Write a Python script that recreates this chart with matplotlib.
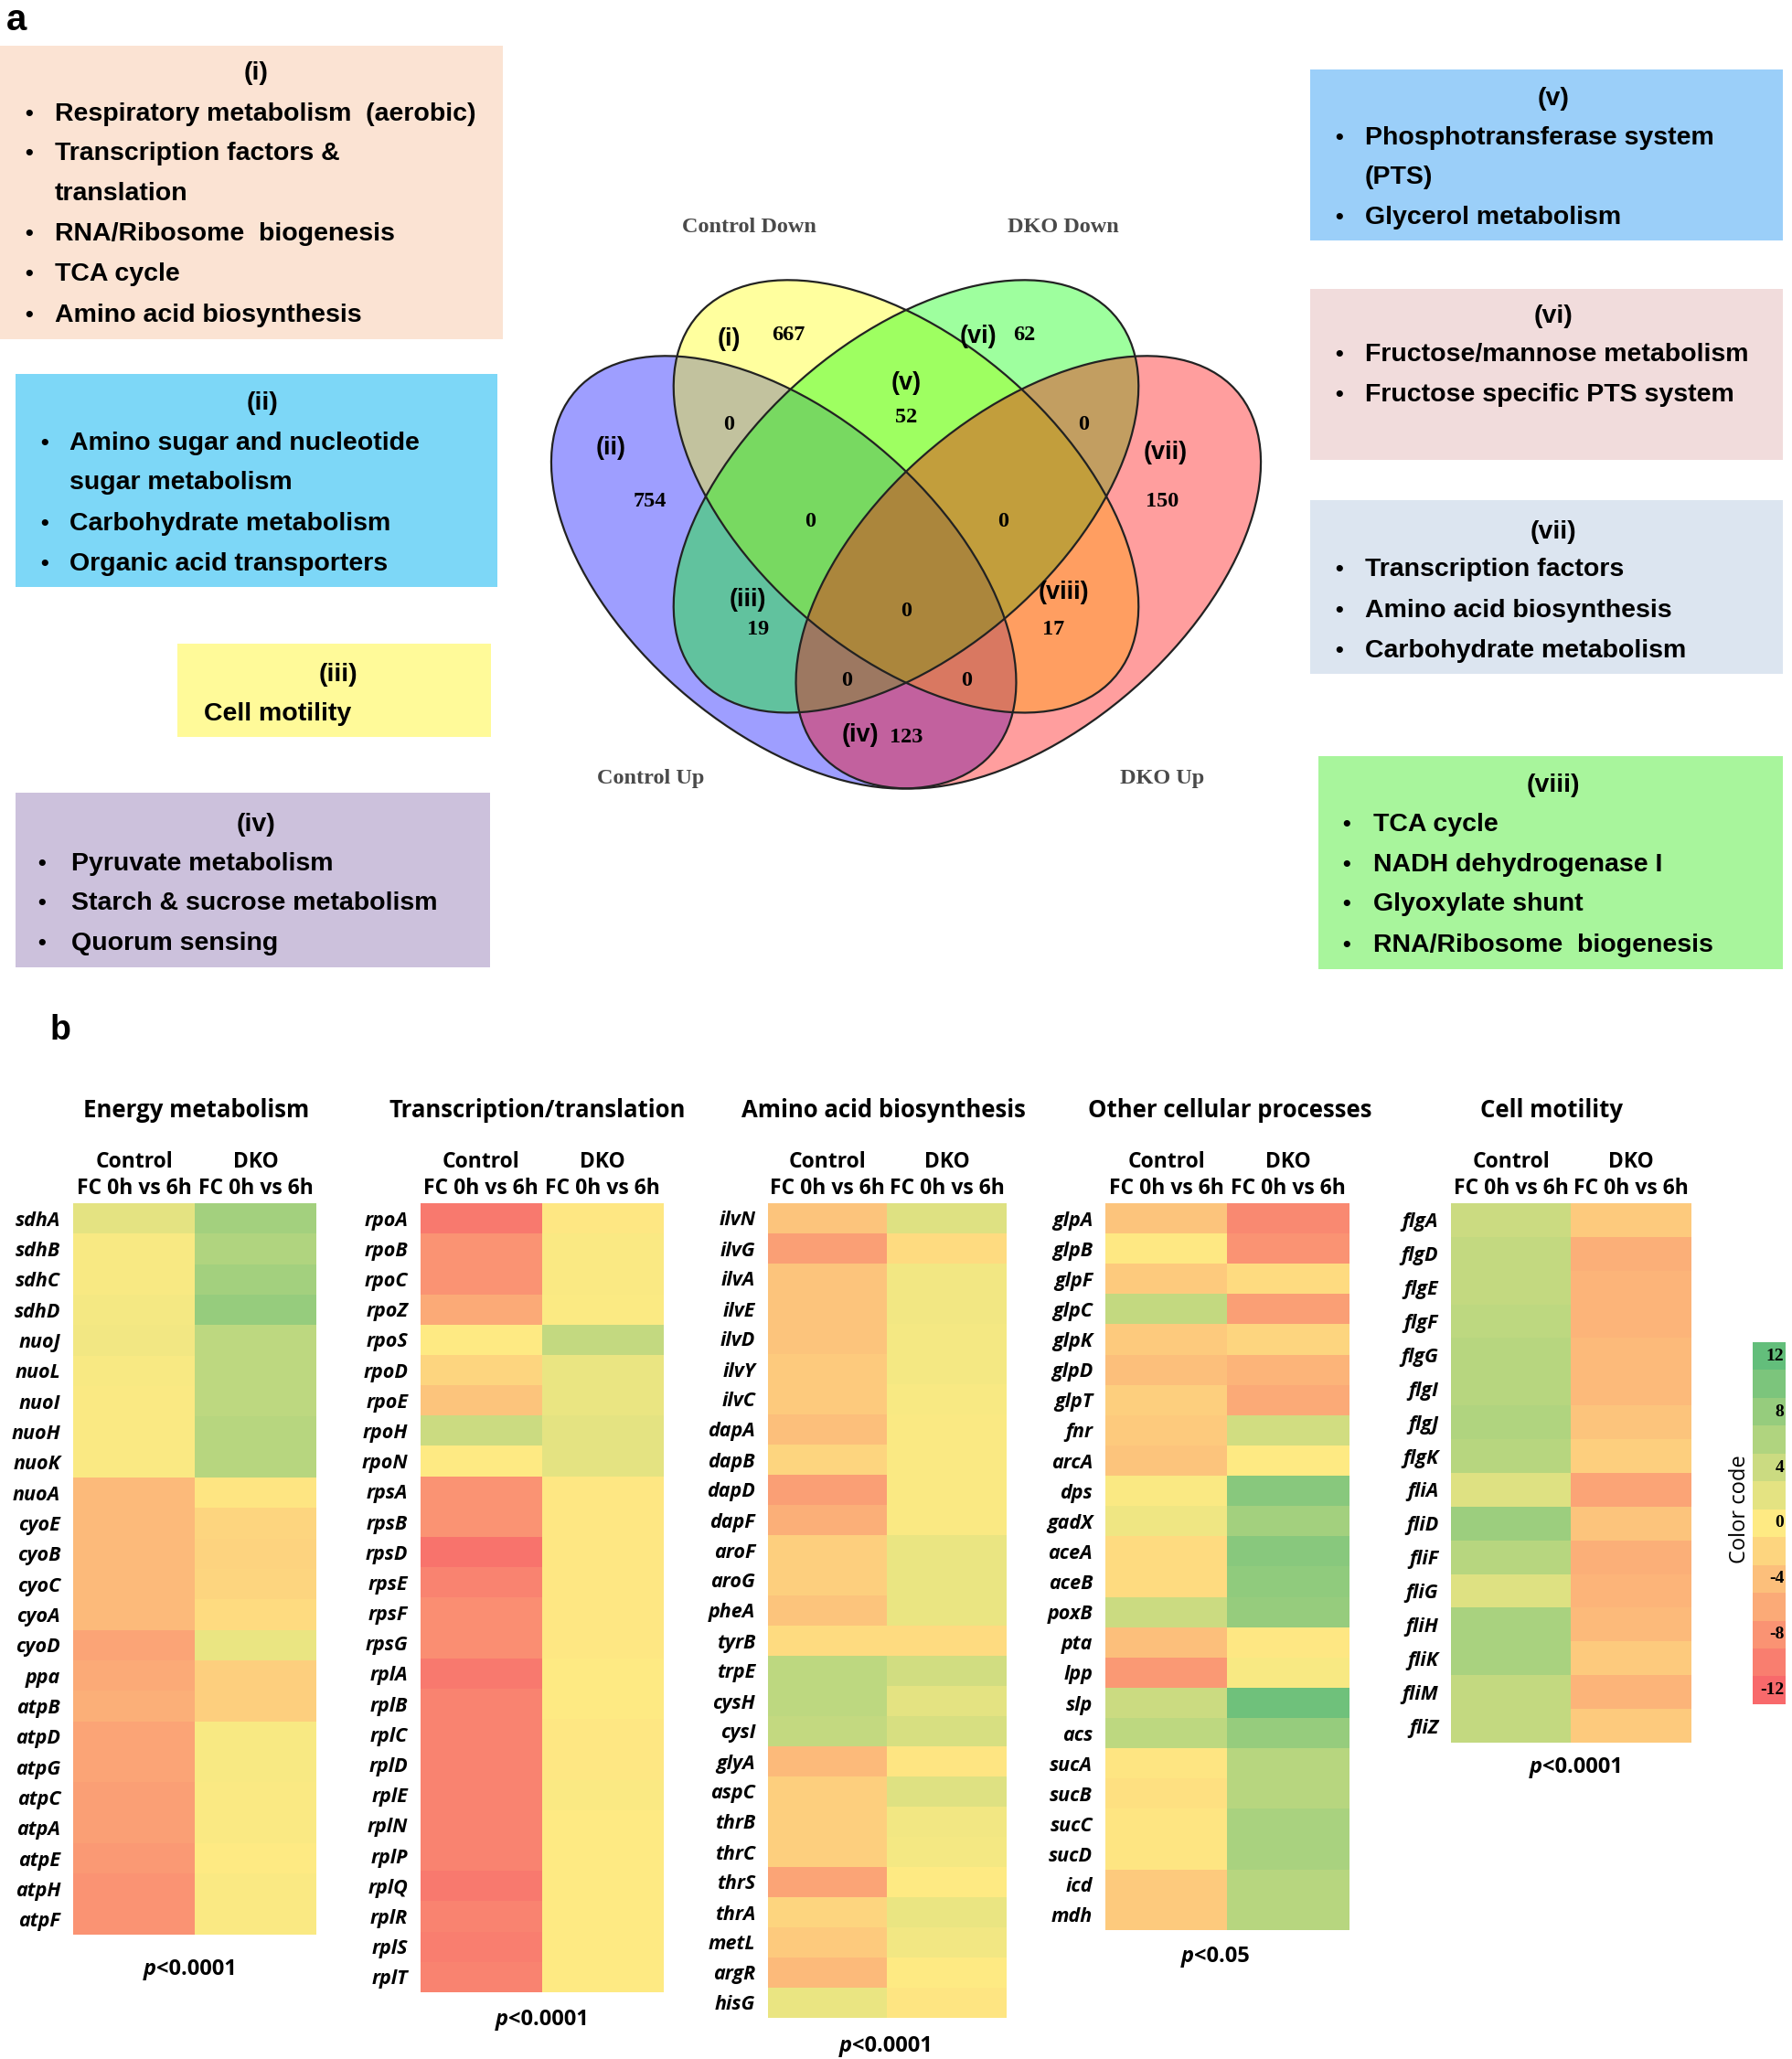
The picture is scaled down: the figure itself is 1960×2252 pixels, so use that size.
import numpy as np
import matplotlib
matplotlib.use('Agg')
import matplotlib.pyplot as plt
from matplotlib.patches import Ellipse, Rectangle
from matplotlib.colors import LinearSegmentedColormap

# ---------------- DATA ----------------
col_labels = ["Control\nFC 0h vs 6h", "DKO\nFC 0h vs 6h"]

energy_genes = ["sdhA", "sdhB", "sdhC", "sdhD", "nuoJ", "nuoL", "nuoI", "nuoH", "nuoK", "nuoA",
                "cyoE", "cyoB", "cyoC", "cyoA", "cyoD", "ppa", "atpB", "atpD", "atpG", "atpC",
                "atpA", "atpE", "atpH", "atpF"]
energy_control = [2, 0.5, 0.5, 0.8, 1, 0.5, 0.3, 0.3, 0.3, -4.5, -4.5, -4.5, -4.5, -4.5, -6.5, -6,
                  -5.5, -6.5, -6.5, -7, -7, -7.5, -8, -8]
energy_dko = [7, 6, 7, 8, 5, 5, 5, 5.5, 5.5, -0.5, -2, -2.2, -2, -1.5, 1.5, -2.5, -2.5, 0.5, 0.5,
              0.3, 0.3, 0, 0.3, 0.3]

trans_genes = ["rpoA", "rpoB", "rpoC", "rpoZ", "rpoS", "rpoD", "rpoE", "rpoH", "rpoN", "rpsA",
               "rpsB", "rpsD", "rpsE", "rpsF", "rpsG", "rplA", "rplB", "rplC", "rplD", "rplE",
               "rplN", "rplP", "rplQ", "rplR", "rplS", "rplT"]
trans_control = [-10.5, -8, -8, -6, 0, -2, -3.5, 4, 0, -8, -8, -11, -9.5, -8.5, -8.5, -10.5, -9.5,
                 -9.5, -9.5, -9.5, -9.5, -9.5, -10.5, -9.5, -10, -9.5]
trans_dko = [-0.3, 0.3, 0.3, 0.2, 4.5, 1.5, 1.5, 2, 2, -0.3, -0.3, -0.3, -0.3, -0.3, -0.3, 0, 0,
             -0.3, -0.3, 0.3, 0, 0, 0, 0, 0, 0]

amino_genes = ["ilvN", "ilvG", "ilvA", "ilvE", "ilvD", "ilvY", "ilvC", "dapA", "dapB", "dapD",
               "dapF", "aroF", "aroG", "pheA", "tyrB", "trpE", "cysH", "cysI", "glyA", "aspC",
               "thrB", "thrC", "thrS", "thrA", "metL", "argR", "hisG"]
amino_control = [-3.5, -7, -3.5, -3.5, -3.5, -3, -3, -4, -2, -7, -5.5, -2.5, -2.5, -3.5, -1.5, 5,
                 5, 4.5, -4.5, -2.5, -2.5, -2.5, -6.5, -2, -3, -4.5, 1.5]
amino_dko = [2.5, -1.5, 1, 1, 0.8, 0.8, 0.5, 0.3, 0.3, 0.3, 0.3, 1.5, 1.5, 1.5, -1.5, 3.5, 2, 3,
             -0.5, 2.5, 1, 0.8, 0, 1.5, 1, 0, -0.5]

other_genes = ["glpA", "glpB", "glpF", "glpC", "glpK", "glpD", "glpT", "fnr", "arcA", "dps",
               "gadX", "aceA", "aceB", "poxB", "pta", "lpp", "slp", "acs", "sucA", "sucB",
               "sucC", "sucD", "icd", "mdh"]
other_control = [-3.5, -0.2, -3, 4.5, -3, -4, -2.5, -3, -3.5, 0.3, 1.2, -1.5, -1.5, 4, -4, -7.5,
                 4, 5, -0.5, -1, -0.5, -0.5, -3, -3]
other_dko = [-9, -8, -1.5, -7, -2, -5, -6, 3.5, 0, 9, 7, 9, 8.5, 8, -0.3, 0.5, 11, 8, 5.5, 5.5,
             6.5, 6.5, 5.5, 5.5]

motility_genes = ["flgA", "flgD", "flgE", "flgF", "flgG", "flgI", "flgJ", "flgK", "fliA", "fliD",
                  "fliF", "fliG", "fliH", "fliK", "fliM", "fliZ"]
motility_control = [4, 4.5, 4.5, 5, 5.5, 5.5, 6, 5.5, 2.5, 7.5, 5.5, 2.5, 6.5, 6.5, 4.5, 4.5]
motility_dko = [-3, -5.5, -5, -5, -4.5, -4.5, -3.5, -2.5, -6.5, -3.5, -5.5, -5, -4.5, -3, -5, -3]

panel_titles = ["Energy metabolism", "Transcription/translation", "Amino acid biosynthesis",
                "Other cellular processes", "Cell motility"]
panel_pvalues = ["<0.0001", "<0.0001", "<0.0001", "<0.05", "<0.0001"]

colorbar_levels = [12, 10, 8, 6, 4, 2, 0, -2, -4, -6, -8, -10, -12]
colorbar_ticks = [12, 8, 4, 0, -4, -8, -12]

venn_sets = ["Control Up", "Control Down", "DKO Down", "DKO Up"]
venn_labels = ["(i)", "(ii)", "(iii)", "(iv)", "(v)", "(vi)", "(vii)", "(viii)"]
venn_counts = [667, 754, 19, 123, 52, 62, 150, 17]
venn_zero_counts = [0, 0, 0, 0, 0, 0, 0, 0]

box_titles = ["(i)", "(ii)", "(iii)", "(iv)", "(v)", "(vi)", "(vii)", "(viii)"]
box_lines = [
    [(True, "Respiratory metabolism  (aerobic)"), (True, "Transcription factors &"),
     (False, "translation"), (True, "RNA/Ribosome  biogenesis"), (True, "TCA cycle"),
     (True, "Amino acid biosynthesis")],
    [(True, "Amino sugar and nucleotide"), (False, "sugar metabolism"),
     (True, "Carbohydrate metabolism"), (True, "Organic acid transporters")],
    [(False, "Cell motility")],
    [(True, "Pyruvate metabolism"), (True, "Starch & sucrose metabolism"), (True, "Quorum sensing")],
    [(True, "Phosphotransferase system"), (False, "(PTS)"), (True, "Glycerol metabolism")],
    [(True, "Fructose/mannose metabolism"), (True, "Fructose specific PTS system")],
    [(True, "Transcription factors"), (True, "Amino acid biosynthesis"), (True, "Carbohydrate metabolism")],
    [(True, "TCA cycle"), (True, "NADH dehydrogenase I"), (True, "Glyoxylate shunt"),
     (True, "RNA/Ribosome  biogenesis")],
]

# ---------------- LAYOUT ----------------
W, H = 1960, 2252
fig = plt.figure(figsize=(W / 100, H / 100), dpi=100)
fig.patch.set_facecolor('white')


def ax_px(x0, y0, x1, y1):
    return fig.add_axes([x0 / W, 1 - y1 / H, (x1 - x0) / W, (y1 - y0) / H])


ov = fig.add_axes([0, 0, 1, 1])
ov.set_xlim(0, W)
ov.set_ylim(H, 0)
ov.axis('off')

SANS = 'Liberation Sans'
SERIF = 'Liberation Serif'
HM = 'Open Sans'

ov.text(18, 22, "a", fontsize=29, fontweight='bold', family=SANS, ha='center', va='center')
ov.text(66, 1127, "b", fontsize=27, fontweight='bold', family=SANS, ha='center', va='center')

# boxes: (x0, y0, x1, y1, color, title_y, line_ys, bullet_x, text_x, title_x)
box_geom = [
    (0, 50, 550, 371, '#fbe3d3', 80, [125, 168, 212, 256, 300, 345], 32, 60, 280),
    (17, 409, 544, 642, '#7dd7f7', 441, [485, 528, 573, 617], 49, 76, 287),
    (194, 704, 537, 806, '#fffa99', 738, [781], 49, 223, 370),
    (17, 867, 536, 1058, '#ccc1dc', 902, [945, 988, 1032], 46, 78, 280),
    (1433, 76, 1950, 263, '#9bcff9', 108, [151, 194, 238], 1465, 1493, 1699),
    (1433, 316, 1950, 503, '#f1dcdc', 346, [388, 432], 1465, 1493, 1699),
    (1433, 547, 1950, 737, '#dce5f0', 582, [623, 668, 712], 1465, 1493, 1699),
    (1442, 827, 1950, 1060, '#a8f59c', 859, [902, 946, 989, 1034], 1473, 1502, 1699),
]
for (x0, y0, x1, y1, col, ty, lys, bx, tx, tcx), title, lines in zip(box_geom, box_titles, box_lines):
    ov.add_patch(Rectangle((x0, y0), x1 - x0, y1 - y0, facecolor=col, edgecolor='none'))
    ov.text(tcx, ty, title, fontsize=20.5, fontweight='bold', family=SANS, ha='center', va='center')
    for (bul, txt), yy in zip(lines, lys):
        if bul:
            ov.text(bx, yy, "\u2022", fontsize=18, fontweight='bold', family=SANS, ha='center', va='center')
        ov.text(tx, yy, txt, fontsize=20.5, fontweight='bold', family=SANS, ha='left', va='center')

# ---------------- VENN ----------------
vax = ax_px(545, 186, 1437, 1016)
vax.set_xlim(0, 1)
vax.set_ylim(0, 1)
vax.axis('off')
ell_specs = [((0.35, 0.47), -45, '#0000ff'),
             ((0.50, 0.57), -45, '#ffff00'),
             ((0.50, 0.57), 45, '#00ff00'),
             ((0.65, 0.47), 45, '#ff0000')]
for (c, ang, col) in ell_specs:
    vax.add_patch(Ellipse(c, 0.7, 0.4, angle=ang, facecolor=col, alpha=0.38, edgecolor='none'))
for (c, ang, col) in ell_specs:
    vax.add_patch(Ellipse(c, 0.7, 0.4, angle=ang, facecolor='none', edgecolor='#222222', lw=1.6))

set_label_pos = [(712, 852), (819, 248), (1163, 248), (1271, 852)]
for name, (x, y) in zip(venn_sets, set_label_pos):
    ov.text(x, y, name, fontsize=17.5, fontweight='bold', family=SERIF, color='#4a4a4a',
            ha='center', va='center', zorder=5)

roman_pos = [(797, 371), (668, 490), (818, 656), (941, 804), (991, 419), (1070, 368), (1275, 495), (1163, 648)]
count_pos = [(862, 366), (711, 549), (829, 689), (991, 807), (991, 457), (1120, 366), (1271, 549), (1152, 689)]
zero_pos = [(797, 464), (1185, 464), (886, 570), (1097, 570), (991, 668), (926, 744), (1057, 744)]
for lab, (x, y) in zip(venn_labels, roman_pos):
    ov.text(x, y, lab, fontsize=19.5, fontweight='bold', family=SANS, ha='center', va='center', zorder=5)
for cnt, (x, y) in zip(venn_counts, count_pos):
    ov.text(x, y, str(cnt), fontsize=17.5, fontweight='bold', family=SERIF, ha='center', va='center', zorder=5)
for cnt, (x, y) in zip(venn_zero_counts, zero_pos):
    ov.text(x, y, str(cnt), fontsize=17.5, fontweight='bold', family=SERIF, ha='center', va='center', zorder=5)
ov.set_zorder(3)
ov.patch.set_alpha(0)

# ---------------- HEATMAPS ----------------
cmap = LinearSegmentedColormap.from_list('excel3', ['#F8696B', '#FFEB84', '#63BE7B'])

panels = [
    (energy_genes, energy_control, energy_dko, (80, 1316, 346, 2116), 215, (204, 2154)),
    (trans_genes, trans_control, trans_dko, (460, 1316, 725, 2179), 588, (589, 2209)),
    (amino_genes, amino_control, amino_dko, (840, 1316, 1101, 2207), 966, (965, 2238)),
    (other_genes, other_control, other_dko, (1209, 1316, 1476, 2111), 1345, (1328, 2140)),
    (motility_genes, motility_control, motility_dko, (1587, 1316, 1850, 1906), 1697, (1720, 1933)),
]
for (genes, ctrl, dko, (x0, y0, x1, y1), tcx, (px, py)), title, pv in zip(panels, panel_titles, panel_pvalues):
    ax = ax_px(x0, y0, x1, y1)
    data = np.column_stack([ctrl, dko])
    ax.imshow(data, cmap=cmap, vmin=-12, vmax=12, aspect='auto', interpolation='nearest')
    ax.set_yticks(range(len(genes)))
    ax.set_yticklabels(genes, family=HM, fontstyle='italic', fontweight='bold', fontsize=15.5)
    ax.xaxis.tick_top()
    ax.set_xticks([0, 1])
    ax.set_xticklabels(col_labels, family=HM, fontweight='bold', fontsize=16.5, linespacing=1.25)
    ax.tick_params(axis='y', length=0, pad=10)
    ax.tick_params(axis='x', length=0, pad=3)
    for s in ax.spines.values():
        s.set_visible(False)
    ov.text(tcx, 1214, title, family=HM, fontweight='bold', fontsize=18.5, ha='center', va='center')
    anchor = px - len(pv) * 11.5 / 2 + 7
    ov.text(anchor, py, "p", family=HM, fontstyle='italic', fontweight='bold', fontsize=17, ha='right', va='center')
    ov.text(anchor, py, pv, family=HM, fontweight='bold', fontsize=17, ha='left', va='center')

# ---------------- COLORBAR ----------------
cax = ax_px(1917, 1468, 1953, 1864)
cb_data = np.array(colorbar_levels, dtype=float).reshape(-1, 1)
n = len(colorbar_levels)
cax.imshow(cb_data, cmap=cmap, vmin=-12, vmax=12, aspect='auto', interpolation='nearest',
           extent=[0, 1, -n, n])
cax.set_xlim(0, 1)
cax.set_ylim(-n, n)
cax.axis('off')
for t in colorbar_ticks:
    cax.text(0.95, t, str(t), family=SERIF, fontweight='bold', fontsize=14, ha='right', va='center')
ov.text(1903, 1651, "Color code", family=HM, fontsize=17, rotation=90, ha='center', va='center')

fig.savefig('out.png', dpi=100, facecolor='white')
